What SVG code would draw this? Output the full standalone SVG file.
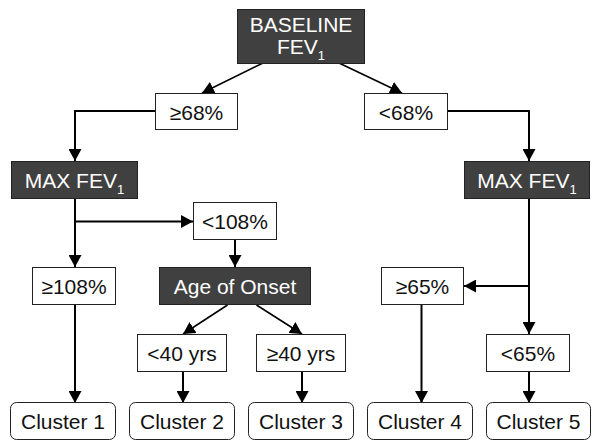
<svg xmlns="http://www.w3.org/2000/svg" width="592" height="441" viewBox="0 0 592 441">
<defs>
<marker id="ah" viewBox="0 0 12 13" refX="12" refY="6.5" markerWidth="12" markerHeight="13" markerUnits="userSpaceOnUse" orient="auto">
<path d="M0,0 L12,6.5 L0,13 z" fill="#000"/>
</marker>
<style>
.dark rect{fill:#404040;stroke:#222;stroke-width:1}
.light rect{fill:#fff;stroke:#222;stroke-width:1}
text{font-family:"Liberation Sans",Arial,sans-serif;font-size:21px;text-anchor:middle}
.dark text{fill:#fff}
.light text{fill:#111}
.sub{font-size:13px}
.c path,.c line{fill:none;stroke:#000;stroke-width:2;marker-end:url(#ah)}
.c line{stroke-width:1.6}
</style>
</defs>
<rect width="592" height="441" fill="#fff"/>
<g class="c" id="connectors">
<line x1="263" y1="63" x2="202" y2="93"/>
<line x1="339" y1="63" x2="402" y2="93"/>
<path d="M155,111 H75 V161"/>
<path d="M448,111 H529 V161"/>
<path d="M75,198 V267"/>
<path d="M75,221.5 H193"/>
<path d="M235,240 V267"/>
<line x1="227.5" y1="305" x2="183" y2="334"/>
<line x1="256.5" y1="305" x2="302" y2="334"/>
<path d="M529,199 V334"/>
<path d="M529,286 H464"/>
<path d="M75,305 V403"/>
<path d="M183,372 V403"/>
<path d="M302,372 V403"/>
<path d="M421.5,305 V403"/>
<path d="M529,372 V403"/>
</g>
<g id="baseline" class="dark"><rect x="237.5" y="9.5" width="127" height="54"/><text x="301" y="32">BASELINE</text><text x="301" y="54">FEV<tspan class="sub" dy="6">1</tspan></text></g>
<g id="ge68" class="light"><rect x="155.5" y="93.5" width="82" height="36"/><text x="196.5" y="120">≥68%</text></g>
<g id="lt68" class="light"><rect x="364.5" y="93.5" width="83" height="36"/><text x="406" y="120">&lt;68%</text></g>
<g id="max1" class="dark"><rect x="11.5" y="161.5" width="126" height="37"/><text x="74.5" y="187.5">MAX FEV<tspan class="sub" dy="6">1</tspan></text></g>
<g id="max2" class="dark"><rect x="464.5" y="161.5" width="125" height="37"/><text x="527" y="187.5">MAX FEV<tspan class="sub" dy="6">1</tspan></text></g>
<g id="lt108" class="light"><rect x="193.5" y="202.5" width="83" height="37"/><text x="235" y="229">&lt;108%</text></g>
<g id="ge108" class="light"><rect x="32.5" y="267.5" width="83" height="37"/><text x="74" y="293.5">≥108%</text></g>
<g id="age" class="dark"><rect x="159.5" y="267.5" width="151" height="37"/><text x="235" y="293.5">Age of Onset</text></g>
<g id="ge65" class="light"><rect x="381.5" y="267.5" width="82" height="37"/><text x="422.5" y="293.5">≥65%</text></g>
<g id="lt40" class="light"><rect x="137.5" y="334.5" width="89" height="37"/><text x="182" y="360.5">&lt;40 yrs</text></g>
<g id="ge40" class="light"><rect x="256.5" y="334.5" width="89" height="37"/><text x="301" y="360.5">≥40 yrs</text></g>
<g id="lt65" class="light"><rect x="486.5" y="334.5" width="83" height="37"/><text x="528" y="360.5">&lt;65%</text></g>
<g id="cluster1" class="light"><rect x="10.5" y="402.5" width="105" height="37" rx="6"/><text x="63" y="429">Cluster 1</text></g>
<g id="cluster2" class="light"><rect x="129.5" y="402.5" width="105" height="37" rx="6"/><text x="182" y="429">Cluster 2</text></g>
<g id="cluster3" class="light"><rect x="248.5" y="402.5" width="105" height="37" rx="6"/><text x="301" y="429">Cluster 3</text></g>
<g id="cluster4" class="light"><rect x="367.5" y="402.5" width="105" height="37" rx="6"/><text x="420" y="429">Cluster 4</text></g>
<g id="cluster5" class="light"><rect x="486.5" y="402.5" width="104" height="37" rx="6"/><text x="538.5" y="429">Cluster 5</text></g>
</svg>
